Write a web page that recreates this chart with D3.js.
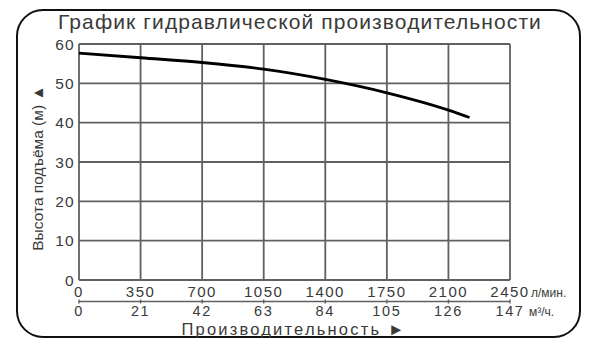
<!DOCTYPE html>
<html>
<head>
<meta charset="utf-8">
<script src="https://cdn.jsdelivr.net/npm/d3@7"></script>
<style>
  body { margin: 0; background: #fff; }
  text { font-family: "Liberation Sans", Arial, sans-serif; fill: #3a3a3a; }
</style>
</head>
<body>
<script>
const svg_width = 592;
const svg_height = 346;

// data
const flow_lpm = [0, 350, 700, 1050, 1400, 1750, 2100, 2220];
const head_m = [57.7, 56.5, 55.3, 53.6, 51.0, 47.6, 43.2, 41.3];
const x_ticks_lpm = [0, 350, 700, 1050, 1400, 1750, 2100, 2450];
const x_ticks_m3h = [0, 21, 42, 63, 84, 105, 126, 147];
const y_ticks = [0, 10, 20, 30, 40, 50, 60];

const title = 'График гидравлической производительности';
const y_title = 'Высота подъёма (м) ▲';
const x_title = 'Производительность ►';

const plot_left = 79, plot_right = 510, plot_top = 44, plot_bottom = 280;

const x = d3.scaleLinear().domain([0, 2450]).range([plot_left, plot_right]);
const y = d3.scaleLinear().domain([0, 60]).range([plot_bottom, plot_top]);

const svg = d3.select('body').append('svg')
    .attr('width', svg_width)
    .attr('height', svg_height);

// rounded frame
svg.append('rect')
    .attr('x', 17).attr('y', 10)
    .attr('width', 563).attr('height', 327)
    .attr('rx', 26).attr('ry', 26)
    .attr('fill', 'none')
    .attr('stroke', '#111')
    .attr('stroke-width', 2);

svg.append('text')
    .attr('x', 300).attr('y', 29)
    .attr('text-anchor', 'middle')
    .attr('font-size', 21)
    .attr('letter-spacing', 1.1)
    .text(title);

// grid
const grid = svg.append('g')
    .attr('stroke', '#606060')
    .attr('stroke-width', 1.8);

grid.selectAll('.v').data(x_ticks_lpm).join('line')
    .attr('x1', d => x(d)).attr('x2', d => x(d))
    .attr('y1', y(0)).attr('y2', y(60));

grid.selectAll('.h').data(y_ticks).join('line')
    .attr('x1', x(0)).attr('x2', x(2450))
    .attr('y1', d => y(d)).attr('y2', d => y(d));

// y labels
svg.selectAll('.ylab').data(y_ticks).join('text')
    .attr('x', plot_left - 4)
    .attr('y', d => y(d) + 5.5)
    .attr('text-anchor', 'end')
    .attr('font-size', 15.5)
    .attr('letter-spacing', 1.3)
    .text(d => d);

svg.append('text')
    .attr('transform', `translate(43, ${(plot_top + plot_bottom) / 2 + 6}) rotate(-90)`)
    .attr('text-anchor', 'middle')
    .attr('font-size', 15.5)
    .text(y_title);

// bottom double scale
svg.append('line')
    .attr('x1', x(0)).attr('x2', x(2450))
    .attr('y1', 301.5).attr('y2', 301.5)
    .attr('stroke', '#606060')
    .attr('stroke-width', 1.4);

svg.selectAll('.tk').data(x_ticks_lpm).join('line')
    .attr('x1', d => x(d)).attr('x2', d => x(d))
    .attr('y1', 299.5).attr('y2', 303.5)
    .attr('stroke', '#606060')
    .attr('stroke-width', 1.4);

svg.selectAll('.xlab1').data(x_ticks_lpm).join('text')
    .attr('x', d => x(d))
    .attr('y', 297)
    .attr('text-anchor', 'middle')
    .attr('font-size', 15)
    .attr('letter-spacing', 1.5)
    .text(d => d);

svg.selectAll('.xlab2').data(x_ticks_m3h).join('text')
    .attr('x', (d, i) => x(x_ticks_lpm[i]))
    .attr('y', 315.5)
    .attr('text-anchor', 'middle')
    .attr('font-size', 14.5)
    .attr('letter-spacing', 1.6)
    .text(d => d);

svg.append('text')
    .attr('x', x(2450) + 21).attr('y', 297)
    .attr('font-size', 12)
    .text('л/мин.');

svg.append('text')
    .attr('x', x(2450) + 19).attr('y', 315.5)
    .attr('font-size', 12)
    .text('м³/ч.');

svg.append('text')
    .attr('x', 294).attr('y', 334.5)
    .attr('text-anchor', 'middle')
    .attr('font-size', 16.5)
    .attr('letter-spacing', 2.2)
    .text(x_title);

// curve
const line = d3.line()
    .x((d, i) => x(flow_lpm[i]))
    .y(d => y(d))
    .curve(d3.curveMonotoneX);

svg.append('path')
    .attr('d', line(head_m))
    .attr('fill', 'none')
    .attr('stroke', '#000')
    .attr('stroke-width', 2.8);
</script>
</body>
</html>
